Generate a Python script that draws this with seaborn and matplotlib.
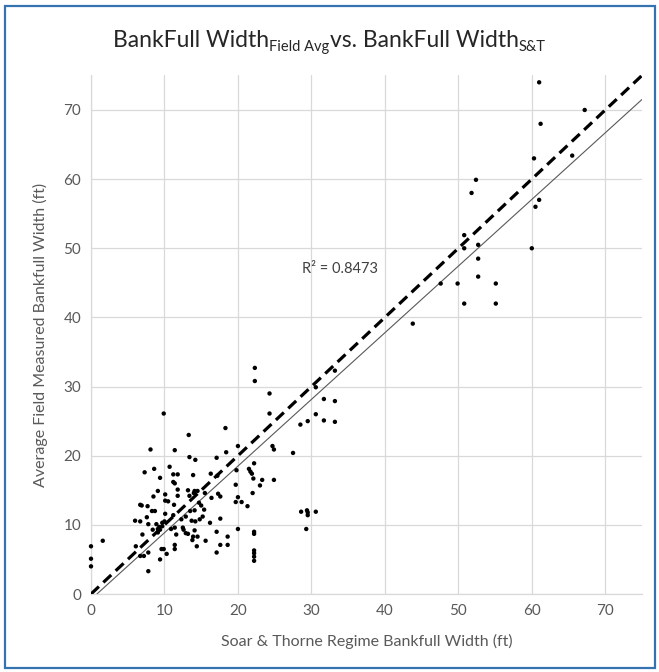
import numpy as np
import pandas as pd
import matplotlib
matplotlib.use("Agg")
import matplotlib.pyplot as plt
import seaborn as sns
from matplotlib.patches import Rectangle

# ---- data ----
st_width = [
    61.0, 67.2, 61.2, 60.3, 65.5, 52.4, 51.8, 61.0, 60.5, 50.8, 50.8, 52.7, 60.0, 52.7,
    47.6, 49.9, 52.7, 55.1, 50.8, 55.1, 43.8,
    9.9, 8.1, 11.4, 8.6, 10.7,
    22.3, 22.3, 24.3, 24.3, 13.3, 18.3, 20.0, 18.4, 13.4, 14.2, 17.1, 24.7, 24.9, 22.2, 21.5,
    33.2, 30.6, 31.7, 33.2, 30.6, 29.5, 28.5, 31.7, 33.2, 27.5,
    7.3, 9.4, 11.2, 11.8, 11.2, 11.4, 9.1, 10.1, 11.8, 11.8, 8.5, 10.1, 10.5, 11.3, 6.7,
    6.9, 7.7, 8.3, 8.7, 10.1, 11.2, 7.6, 6.0, 6.7, 7.8, 8.9, 9.7, 10.0, 9.3, 9.7, 9.1,
    8.4, 9.4, 9.1, 10.9, 11.4, 11.6, 7.0, 1.6, 0.0, 0.0, 0.0, 6.1, 7.8, 6.7, 7.2, 9.6,
    9.9, 9.4, 11.4, 11.4, 7.8, 10.3,
    13.9, 16.3, 17.2, 21.7, 22.1, 23.3, 24.9, 23.0, 19.7, 13.2, 14.1, 14.5, 15.5, 13.4,
    14.0, 17.3, 17.6, 16.4, 22.0, 20.0, 19.7, 20.5, 21.3, 14.7, 15.0, 14.1, 15.4, 13.5,
    12.9, 15.2, 14.8, 13.7, 14.2, 16.2, 17.6, 12.3, 12.5, 12.6, 12.9, 13.2, 14.1, 13.9,
    14.5, 13.8, 15.6, 14.4, 17.1, 18.6, 17.6, 18.6, 17.1, 20.0, 22.2, 22.2, 22.2, 22.2,
    22.2, 22.2, 19.8, 21.9,
    28.6, 29.4, 29.5, 29.5, 30.6, 29.3,
]
field_avg = [
    74.0, 70.0, 68.0, 63.0, 63.4, 59.9, 58.0, 57.0, 56.0, 51.9, 50.0, 50.5, 50.0, 48.5,
    44.9, 44.9, 45.9, 44.9, 42.0, 42.0, 39.1,
    26.1, 20.9, 20.8, 18.1, 18.4,
    32.7, 30.8, 29.0, 26.1, 23.0, 24.0, 21.4, 20.5, 19.8, 19.4, 19.7, 21.4, 20.9, 18.9, 18.1,
    32.3, 29.9, 28.2, 27.9, 26.0, 25.0, 24.5, 25.1, 24.9, 20.4,
    17.6, 16.8, 17.3, 17.3, 16.2, 16.0, 14.9, 14.4, 15.1, 14.2, 14.1, 13.5, 13.4, 12.9, 12.9,
    12.8, 12.7, 12.0, 12.0, 11.6, 11.4, 11.1, 10.6, 10.5, 10.1, 10.1, 10.3, 10.5, 9.7, 9.8, 9.4,
    9.3, 9.3, 8.9, 9.4, 9.6, 8.6, 8.6, 7.7, 6.9, 5.1, 4.0, 6.9, 6.0, 5.5, 5.5, 6.5,
    6.5, 5.0, 7.1, 6.5, 3.3, 5.8,
    17.2, 17.4, 17.1, 17.7, 16.7, 16.5, 16.5, 15.7, 15.8, 15.0, 14.9, 14.9, 14.6, 14.2,
    14.6, 14.5, 14.1, 13.9, 14.6, 14.0, 13.3, 13.3, 12.7, 13.2, 12.8, 12.1, 12.2, 12.0,
    11.2, 11.2, 10.8, 10.6, 10.5, 10.3, 10.9, 10.8, 9.6, 9.3, 8.8, 8.7, 9.2, 8.3,
    8.3, 7.8, 7.7, 6.9, 9.0, 8.3, 7.1, 7.1, 6.0, 9.4, 9.0, 8.7, 6.3, 5.9,
    5.4, 4.8, 17.9, 17.4,
    11.9, 12.1, 11.8, 11.4, 11.9, 9.4,
]

one_to_one_x = [0, 75]
one_to_one_y = [0, 75]
trend_slope = 0.964
trend_intercept = -0.78
trend_x = [0, 75]
r2_label = "R² = 0.8473"
x_ticks = [0, 10, 20, 30, 40, 50, 60, 70]
y_ticks = [0, 10, 20, 30, 40, 50, 60, 70]
title_parts = [("BankFull Width", False), ("Field Avg", True),
               ("vs. BankFull Width", False), ("S&T", True)]

df = pd.DataFrame({"st": st_width, "field": field_avg})
line_df = pd.DataFrame({"x": one_to_one_x, "y": one_to_one_y})
trend_df = pd.DataFrame({"x": trend_x,
                         "y": [trend_slope * v + trend_intercept for v in trend_x]})

sns.set_style("white")
plt.rcParams["font.family"] = ["Lato", "DejaVu Sans"]

fig = plt.figure(figsize=(6.59, 6.72), dpi=100)
ax = fig.add_axes([91 / 659, 1 - 594 / 672, (642 - 91) / 659, (594 - 75.4) / 672])

grid_c = "#d9d9d9"
ax.set_xlim(0, 75)
ax.set_ylim(0, 75)
ax.set_xticks(x_ticks)
ax.set_yticks(y_ticks)
ax.grid(True, color=grid_c, lw=0.9)
ax.set_axisbelow(True)
for s in ["top", "right"]:
    ax.spines[s].set_visible(False)
for s in ["left", "bottom"]:
    ax.spines[s].set_color(grid_c)
    ax.spines[s].set_linewidth(0.9)
ax.tick_params(length=0, colors="#595959", labelsize=11)
ax.tick_params(axis="x", pad=7)
ax.tick_params(axis="y", pad=7)

sns.lineplot(data=trend_df, x="x", y="y", ax=ax, color="#595959", lw=0.8, zorder=2)
sns.lineplot(data=line_df, x="x", y="y", ax=ax, color="black", lw=2.3, zorder=3)
ax.lines[-1].set_dashes([3.4, 1.9])
sns.scatterplot(data=df, x="st", y="field", ax=ax, color="black", s=10,
                edgecolor="none", zorder=4, clip_on=False)

ax.text(33.9, 47.0, r2_label, ha="center", va="center", fontsize=10.5, color="#404040")

ax.set_xlabel("Soar & Thorne Regime Bankfull Width (ft)", fontsize=11.5,
              color="#595959", labelpad=12)
ax.set_ylabel("Average Field Measured Bankfull Width (ft)", fontsize=11.5,
              color="#595959", labelpad=11)

# title composed of normal text and subscripts
renderer = fig.canvas.get_renderer()
main_fs, sub_fs = 16.5, 10.5
base_y = 1 - 46.7 / 672
sub_drop = 4.5 / 672
pieces = []
for txt, is_sub in title_parts:
    t = fig.text(0, base_y - (sub_drop if is_sub else 0), txt,
                 fontsize=sub_fs if is_sub else main_fs, color="#262626",
                 ha="left", va="baseline")
    w = t.get_window_extent(renderer).width / fig.bbox.width
    pieces.append((t, w))
total = sum(w for _, w in pieces)
xcur = 0.5 - total / 2
for t, w in pieces:
    t.set_x(xcur)
    xcur += w

fig.patches.append(Rectangle((5 / 659, 4 / 672), (655 - 5) / 659, (668 - 6) / 672,
                             transform=fig.transFigure, fill=False,
                             edgecolor="#3572b0", lw=1.6))

fig.savefig("out.png", dpi=100)
